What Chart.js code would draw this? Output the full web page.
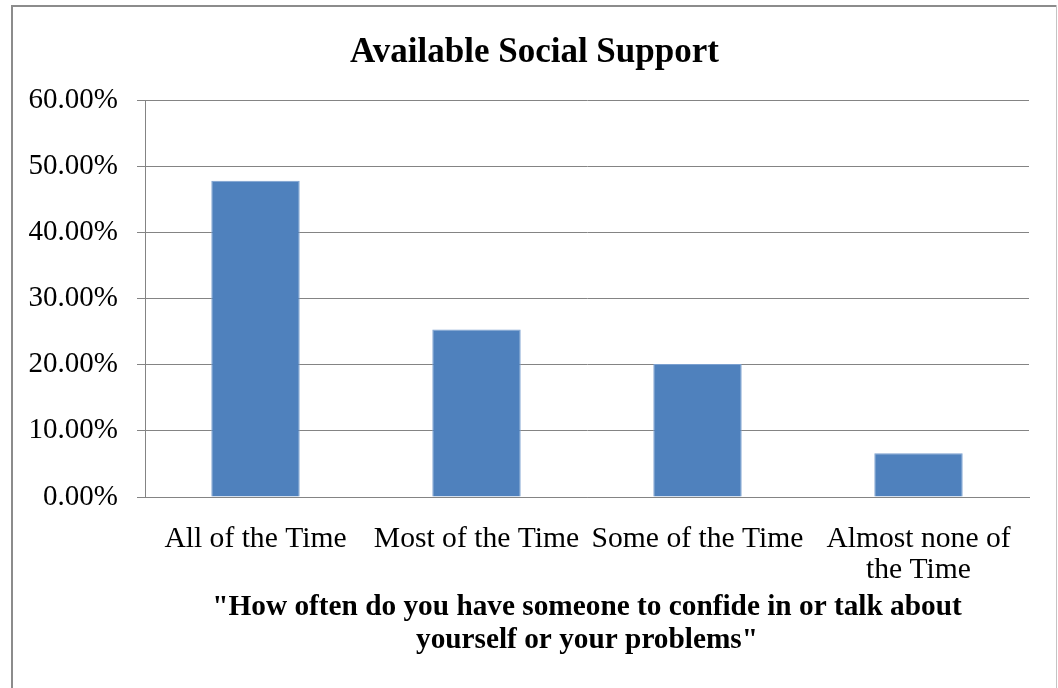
<!DOCTYPE html>
<html>
<head>
<meta charset="utf-8">
<title>Available Social Support</title>
<script src="https://cdn.jsdelivr.net/npm/chart.js@4.4.1/dist/chart.umd.min.js"></script>
<style>
  html, body { margin: 0; padding: 0; background: #ffffff; }
  canvas { display: block; }
</style>
</head>
<body>
<canvas id="chart" width="1058" height="688"></canvas>
<script>
// Survey answers and the share of respondents giving each one (percent)
const categories = [
  'All of the Time',
  'Most of the Time',
  'Some of the Time',
  ['Almost none of', 'the Time']
];
const shares = [47.8, 25.3, 20.1, 6.6];

// Value axis range and label format
const yMin = 0;
const yMax = 60;
const yStep = 10;
const formatPercent = v => v.toFixed(2) + '%';

const chartTitle = 'Available Social Support';
const xAxisTitle = ['"How often do you have someone to confide in or talk about', 'yourself or your problems"'];

const SERIF = '"Liberation Serif", "Times New Roman", Times, serif';

// Frame edges of the chart box
const FRAME_LEFT = 11;
const FRAME_TOP = 5;

// White page with the thin grey frame around the chart
const framePlugin = {
  id: 'frame',
  afterLayout(chart) {
    // centre the main title inside the frame rather than the padded layout
    const t = chart.titleBlock;
    if (t) {
      t.left = FRAME_LEFT + 1;
      t.right = chart.width - 1;
    }
  },
  beforeDraw(chart) {
    const ctx = chart.ctx;
    ctx.save();
    ctx.fillStyle = '#ffffff';
    ctx.fillRect(0, 0, chart.width, chart.height);
    ctx.fillStyle = '#8c8c8c';
    ctx.fillRect(FRAME_LEFT, FRAME_TOP, 2, chart.height - FRAME_TOP);
    ctx.fillRect(FRAME_LEFT, FRAME_TOP, chart.width - FRAME_LEFT - 1, 2);
    ctx.fillStyle = '#c4c4c4';
    ctx.fillRect(chart.width - 2, FRAME_TOP, 1, chart.height - FRAME_TOP);
    ctx.restore();
  }
};

new Chart(document.getElementById('chart'), {
  type: 'bar',
  data: {
    labels: categories,
    datasets: [{
      data: shares,
      backgroundColor: '#4f81bd',
      borderColor: '#7ba0d0',
      borderWidth: 1,
      categoryPercentage: 1.0,
      barPercentage: 0.4
    }]
  },
  options: {
    responsive: false,
    animation: false,
    devicePixelRatio: 1,
    layout: { padding: { left: 0, right: 29, top: 0, bottom: 0 } },
    plugins: {
      legend: { display: false },
      tooltip: { enabled: false },
      title: {
        display: true,
        text: chartTitle,
        color: '#000000',
        font: { family: SERIF, size: 35, weight: 'bold', lineHeight: 1.2 },
        padding: { top: 32, bottom: 26 }
      }
    },
    scales: {
      x: {
        grid: { display: false },
        border: { display: true, color: '#848484', width: 1 },
        ticks: {
          color: '#000000',
          font: { family: SERIF, size: 29.6, lineHeight: 1.05 },
          padding: 19,
          maxRotation: 0,
          autoSkip: false
        },
        title: {
          display: true,
          text: xAxisTitle,
          color: '#000000',
          font: { family: SERIF, size: 29.3, weight: 'bold', lineHeight: 1.13 },
          padding: { top: 0, bottom: 31 }
        },
        afterFit(scale) { scale.height = 191; }
      },
      y: {
        min: yMin,
        max: yMax,
        grid: {
          color: '#848484',
          lineWidth: 1,
          tickLength: 8,
          drawTicks: true
        },
        border: { display: true, color: '#848484', width: 1 },
        ticks: {
          stepSize: yStep,
          color: '#000000',
          font: { family: SERIF, size: 29 },
          padding: 19,
          callback: v => formatPercent(v)
        },
        afterFit(scale) { scale.width = 145; }
      }
    }
  },
  plugins: [framePlugin]
});
</script>
</body>
</html>
